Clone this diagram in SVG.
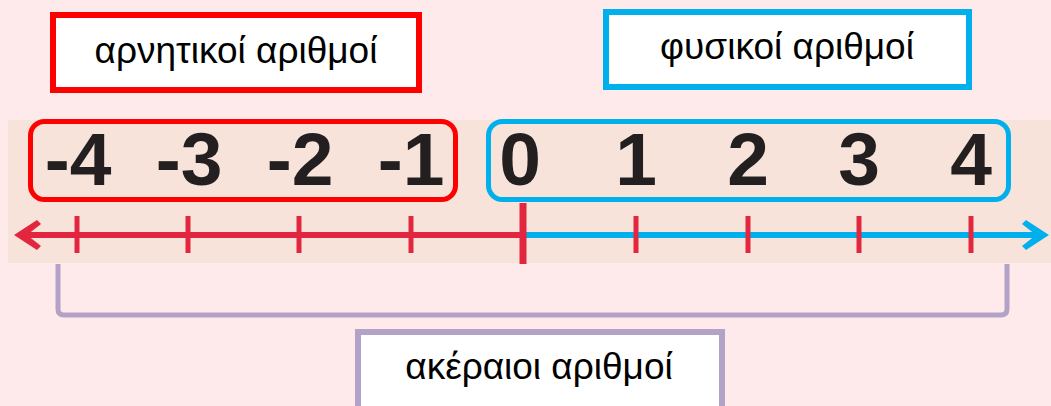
<svg xmlns="http://www.w3.org/2000/svg" width="1051" height="406" viewBox="0 0 1051 406">
  <style>
    .num { font-family: "Liberation Sans", Arial, sans-serif; font-weight: bold; font-size: 75px; fill: #231F20; text-anchor: middle; }
    .lbl { font-family: "Liberation Sans", Arial, sans-serif; font-size: 37px; fill: #000; text-anchor: middle; }
    .tick { stroke: #E3263F; stroke-width: 5; }
  </style>
  <!-- page and number-line band -->
  <rect x="0" y="0" width="1051" height="406" fill="#FEEAEA"/>
  <rect x="8" y="120" width="1043" height="143" fill="#F7E3D9"/>

  <!-- number line connectors -->
  <g id="axis">
    <line x1="24" y1="235" x2="523" y2="235" stroke="#E3263F" stroke-width="6"/>
    <line x1="523" y1="235" x2="1040" y2="235" stroke="#00B0EC" stroke-width="6"/>
    <path d="M14,235 L37,220 L41,224 L27,235 L41,246 L37,250 Z" fill="#E3263F"/>
    <path d="M1049,235 L1026,220 L1022,224 L1036,235 L1022,246 L1026,250 Z" fill="#00B0EC"/>
    <g class="tick">
      <line x1="77" y1="216" x2="77" y2="253"/>
      <line x1="188" y1="216" x2="188" y2="253"/>
      <line x1="299" y1="216" x2="299" y2="253"/>
      <line x1="411" y1="216" x2="411" y2="253"/>
      <line x1="636" y1="216" x2="636" y2="253"/>
      <line x1="748" y1="216" x2="748" y2="253"/>
      <line x1="859" y1="216" x2="859" y2="253"/>
      <line x1="971" y1="216" x2="971" y2="253"/>
    </g>
    <line x1="523" y1="203" x2="523" y2="264" stroke="#E3263F" stroke-width="7"/>
  </g>

  <!-- numbers -->
  <g id="numbers">
    <text class="num" x="78" y="185">-4</text>
    <text class="num" x="189" y="185">-3</text>
    <text class="num" x="300" y="185">-2</text>
    <text class="num" x="411" y="185">-1</text>
    <text class="num" x="520" y="185">0</text>
    <text class="num" x="636" y="185">1</text>
    <text class="num" x="748" y="185">2</text>
    <text class="num" x="859" y="185">3</text>
    <text class="num" x="971" y="185">4</text>
  </g>

  <!-- groupings -->
  <g id="negative-group">
    <rect x="30.5" y="121.5" width="425" height="78" rx="14" fill="none" stroke="#FF0000" stroke-width="5"/>
  </g>
  <g id="natural-group">
    <rect x="488.5" y="121.5" width="520" height="78" rx="14" fill="none" stroke="#00B0EC" stroke-width="5"/>
  </g>
  <g id="integer-bracket">
    <path d="M58,264 V309 Q58,315 64,315 H1001 Q1007,315 1007,309 V264" fill="none" stroke="#B3A2C8" stroke-width="5"/>
  </g>

  <!-- labels -->
  <g id="label-negative">
    <rect x="53" y="15" width="366" height="75" fill="#FFFFFF" stroke="#FF0000" stroke-width="6"/>
    <text class="lbl" x="236" y="63">αρνητικοί αριθμοί</text>
  </g>
  <g id="label-natural">
    <rect x="606" y="12" width="363" height="75" fill="#FFFFFF" stroke="#00B0EC" stroke-width="6"/>
    <text class="lbl" x="787" y="59">φυσικοί αριθμοί</text>
  </g>
  <g id="label-integer">
    <rect x="358" y="332" width="364" height="85" fill="#FFFFFF" stroke="#B3A2C8" stroke-width="6"/>
    <text class="lbl" x="539" y="379">ακέραιοι αριθμοί</text>
  </g>
</svg>
